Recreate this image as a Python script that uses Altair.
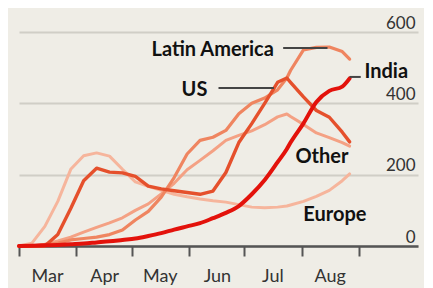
import altair as alt
import pandas as pd

# ---- data ----
dates = ["2020-03-01", "2020-03-08", "2020-03-15", "2020-03-22", "2020-03-29",
         "2020-04-05", "2020-04-12", "2020-04-19", "2020-04-26", "2020-05-03",
         "2020-05-10", "2020-05-17", "2020-05-24", "2020-05-31", "2020-06-07",
         "2020-06-14", "2020-06-21", "2020-06-28", "2020-07-05", "2020-07-12",
         "2020-07-19", "2020-07-24", "2020-07-26", "2020-08-02", "2020-08-09",
         "2020-08-16", "2020-08-23", "2020-08-27"]

europe = [0, 8, 55, 125, 215, 253, 261, 252, 215, 180, 167, 156, 145, 138, 132,
          127, 123, 116, 109, 107, 109, 112, 115, 125, 139, 156, 183, 202]
other = [0, 0, 5, 14, 25, 39, 52, 65, 79, 100, 118, 146, 176, 214, 240,
         267, 296, 310, 323, 340, 362, 370, 363, 341, 317, 304, 290, 280]
latin_america = [0, 0, 3, 8, 17, 21, 25, 32, 45, 73, 97, 137, 192, 258, 296,
                 305, 324, 371, 400, 415, 438, 471, 492, 550, 557, 558, 545, 524]
us = [0, 0, 0, 32, 105, 183, 218, 207, 205, 195, 168, 160, 155, 150, 145,
      154, 206, 290, 343, 400, 459, 471, 459, 418, 380, 361, 319, 292]
india = [0, 1, 2, 3, 5, 7, 10, 13, 17, 21, 28, 36, 46, 55, 64,
         78, 93, 112, 145, 185, 235, 272, 290, 344, 404, 435, 447, 470]

series_names = ["Europe", "Other", "Latin America", "US", "India"]
series_values = [europe, other, latin_america, us, india]
series_colors = ["#f6b59c", "#f4a184", "#ef8560", "#e5502c", "#e3120b"]
series_widths = [3, 3, 3.2, 3.4, 4]
series_interp = ["linear", "linear", "linear", "linear", "monotone"]

label_texts = ["Latin America", "US", "India", "Other", "Europe"]
label_dates = ["2020-07-17", "2020-06-11", "2020-09-04", "2020-08-12", "2020-08-19"]
label_values = [533, 421, 471, 233, 70]
label_aligns = ["right", "right", "left", "center", "center"]

leader_start = ["2020-07-22", "2020-06-17", "2020-08-27"]
leader_end = ["2020-08-15", "2020-07-17", "2020-09-02"]
leader_values = [555, 443, 474]

y_ticks = [0, 200, 400, 600]
month_starts = [3, 4, 5, 6, 7, 8, 9]

# ---- build tables ----
rows = []
for name, vals in zip(series_names, series_values):
    for d, v in zip(dates, vals):
        rows.append({"date": d + "T00:00", "value": v, "series": name})
df = pd.DataFrame(rows)

labels_df = pd.DataFrame({
    "date": [d + "T00:00" for d in label_dates],
    "value": label_values,
    "text": label_texts,
    "align": label_aligns,
})
leaders_df = pd.DataFrame({
    "date": [d + "T00:00" for d in leader_start],
    "end": [d + "T00:00" for d in leader_end],
    "value": leader_values,
})

x_scale = alt.Scale(domain=[alt.DateTime(year=2020, month=3, date=1),
                            alt.DateTime(year=2020, month=10, date=3)])
y_scale = alt.Scale(domain=[0, 600])

x_axis = alt.Axis(
    values=[alt.DateTime(year=2020, month=m, date=1) for m in month_starts],
    format="%b",
    labelExpr="month(datum.value) == 8 ? '' : datum.label",
    labelOffset=28, labelPadding=11, labelFlush=False, labelOverlap=False,
    labelFontSize=18, labelColor="#333333", labelAlign="center",
    tickSize=10, tickColor="#555555", tickWidth=2,
    domainColor="#555555", domainWidth=2.5, grid=False, title=None,
)
y_axis = alt.Axis(
    orient="right", values=y_ticks, grid=True, gridColor="#d0cec6", gridWidth=2,
    domain=False, ticks=False, labelAlign="right", labelBaseline="bottom",
    labelPadding=-3, labelFontSize=17, labelColor="#333333", title=None,
)

X = alt.X("date:T", scale=x_scale, axis=x_axis, title=None)
Y = alt.Y("value:Q", scale=y_scale, axis=y_axis, title=None)

layers = []
for name, col, w, ip in zip(series_names, series_colors, series_widths, series_interp):
    layers.append(
        alt.Chart(df).transform_filter(alt.datum.series == name)
        .mark_line(color=col, strokeWidth=w, interpolate=ip,
                   strokeCap="round", strokeJoin="round")
        .encode(x=X, y=Y)
    )

leaders = alt.Chart(leaders_df).mark_rule(color="#444444", strokeWidth=2).encode(
    x=X, x2="end:T", y=Y,
)
layers.append(leaders)

for al in ["right", "left", "center"]:
    layers.append(
        alt.Chart(labels_df).transform_filter(alt.datum.align == al)
        .mark_text(align=al, baseline="alphabetic", fontSize=20, fontWeight="bold",
                   color="#111111", font="Lato")
        .encode(x=X, y=Y, text="text:N")
    )

chart = alt.layer(*layers).properties(
    width=399, height=214,
    padding={"left": 11, "top": 24, "right": 6, "bottom": 42},
    autosize=alt.AutoSizeParams(type="none"),
    background="#efede6",
).configure(font="Lato").configure_view(stroke=None)

chart.save("out.html", embed_options={"renderer": "svg", "actions": False})
